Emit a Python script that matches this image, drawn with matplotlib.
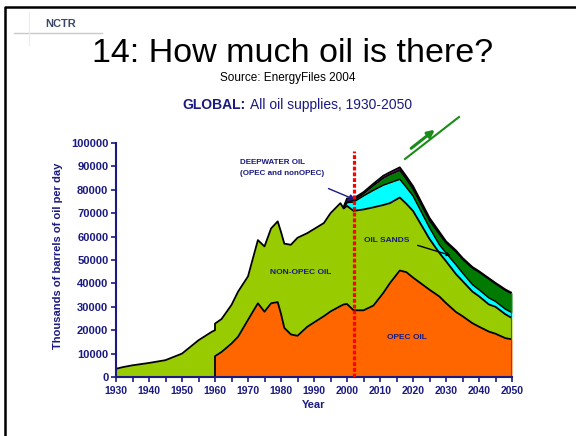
import numpy as np
import matplotlib.pyplot as plt
from matplotlib.lines import Line2D
from matplotlib.ticker import MultipleLocator

plt.rcParams['font.family'] = ['Liberation Sans', 'DejaVu Sans']

navy = '#1a1a80'

# world oil supply, thousand barrels per day
years = [1930, 1932, 1935, 1940, 1945, 1950, 1955, 1959, 1960, 1960, 1962, 1965,
         1967, 1970, 1973, 1975, 1977, 1979, 1980, 1981, 1983, 1985, 1988, 1993,
         1995, 1998, 1999, 2000, 2002, 2005, 2008, 2011, 2013, 2016, 2018, 2020,
         2025, 2028, 2030, 2033, 2035, 2038, 2040, 2043, 2045, 2048, 2050]
opec_top = [0, 0, 0, 0, 0, 0, 0, 0, 0, 8900, 10700, 14300,
            17200, 24400, 31500, 27900, 31500, 32000, 27000, 21000, 18200, 17600, 21500, 26000,
            28000, 30300, 31000, 31200, 28500, 28500, 30500, 35900, 40100, 45500, 44800, 42500,
            37300, 34400, 31600, 27800, 26000, 23000, 21500, 19400, 18500, 16600, 16100]
nonopec_top = [3500, 4200, 5000, 6000, 7200, 10000, 15700, 19300, 20000, 22800, 24800, 30800,
               36500, 43000, 58500, 55800, 63500, 66500, 62000, 57000, 56500, 59500, 61500, 65800,
               70000, 74300, 72000, 73100, 71000, 71600, 72500, 73500, 74300, 76700, 74000, 71000,
               59000, 53000, 49500, 44000, 41000, 36500, 34500, 31000, 30000, 26800, 25200]

# newer sources, 1999 onwards
late_years = [1999, 2000, 2002, 2005, 2008, 2011, 2013, 2016, 2018, 2020, 2025,
              2028, 2030, 2033, 2035, 2038, 2040, 2043, 2045, 2048, 2050]
deep_top = [72300, 74500, 74800, 77400, 79800, 82000, 83000, 84500, 81000, 77400, 63800,
            56500, 53000, 48000, 44500, 39500, 37300, 33800, 32300, 29000, 27500]
sands_top = [72300, 74800, 75500, 78300, 81800, 85000, 86500, 88300, 84500, 80300, 66800,
             61000, 57300, 53500, 50300, 46500, 44800, 41800, 39800, 37000, 35500]
total_top = [72800, 76300, 76300, 79000, 82600, 86000, 87500, 89600, 85700, 81600, 68000,
             62000, 58000, 54100, 50900, 47000, 45200, 42200, 40200, 37400, 35900]

yrs = np.array(years, dtype=float)
opec = np.array(opec_top, dtype=float)
nonopec = np.array(nonopec_top, dtype=float)
ly = np.array(late_years, dtype=float)
nonopec_late = nonopec[-len(late_years):]

fig = plt.figure(figsize=(5.76, 4.36), dpi=100)
ax = fig.add_axes([116 / 576, 1 - 377 / 436, 396 / 576, 234 / 436])

ax.fill_between(yrs, 0, opec, color='#ff6600', lw=0)
ax.fill_between(yrs, opec, nonopec, color='#99cc00', lw=0)
ax.fill_between(ly, nonopec_late, deep_top, color='#00ffff', lw=0)
ax.fill_between(ly, deep_top, sands_top, color='#007a00', lw=0)
ax.fill_between(ly, sands_top, total_top, color='#660066', lw=0)

# outlines
ax.plot(yrs[8:], opec[8:], color='black', lw=1.3)
ax.plot(yrs, nonopec, color='black', lw=1.3)
ax.plot(ly, deep_top, color='black', lw=1.0)
ax.plot(ly, sands_top, color='black', lw=1.0)
ax.plot(ly, total_top, color='black', lw=1.3)
ax.vlines(2050, 0, total_top[-1], color='#555555', lw=1.5)

# 2002 marker
ax.plot([2002, 2002], [0, 96500], color='red', lw=2.3, ls=(0, (1.2, 0.6)), zorder=5)

ax.set_xlim(1930, 2050)
ax.set_ylim(0, 100000)
ax.xaxis.set_major_locator(MultipleLocator(10))
ax.xaxis.set_minor_locator(MultipleLocator(5))
ax.yaxis.set_major_locator(MultipleLocator(10000))
for s in ['top', 'right']:
    ax.spines[s].set_visible(False)
for s in ['left', 'bottom']:
    ax.spines[s].set_color(navy)
    ax.spines[s].set_linewidth(1.5)
ax.tick_params(axis='both', which='both', color=navy, length=3.5, width=1.2,
               labelcolor=navy)
ax.tick_params(axis='y', labelsize=8, pad=2)
ax.tick_params(axis='x', labelsize=7.5, pad=3)
for lab in ax.get_xticklabels() + ax.get_yticklabels():
    lab.set_fontweight('bold')

# labels inside chart
ax.text(1986, 44500, 'NON-OPEC OIL', fontsize=6, fontweight='bold', color=navy,
        ha='center', va='center')
ax.text(2018, 17000, 'OPEC OIL', fontsize=6, fontweight='bold', color=navy,
        ha='center', va='center')
ax.text(1967.6, 89300, 'DEEPWATER OIL\n(OPEC and nonOPEC)', fontsize=5.8,
        fontweight='bold', color=navy, ha='left', va='center', linespacing=1.7)
ax.annotate('', xy=(2003.4, 75200), xytext=(1993.6, 81000),
            arrowprops=dict(arrowstyle='-|>', color=navy, lw=1.0, mutation_scale=9))
ax.text(2012.1, 58400, 'OIL SANDS', fontsize=6, fontweight='bold', color=navy,
        ha='center', va='center')
ax.annotate('', xy=(2032.2, 51600), xytext=(2020.6, 56600),
            arrowprops=dict(arrowstyle='-|>', color='black', lw=1.0, mutation_scale=5))

# titles
fig.text(293 / 576, 1 - 53 / 436, '14: How much oil is there?', fontsize=24.5,
         ha='center', va='center', color='black')
fig.text(288 / 576, 1 - 78 / 436, 'Source: EnergyFiles 2004', fontsize=8.5,
         ha='center', va='center', color='black')
fig.text(246 / 576, 1 - 105 / 436, 'GLOBAL:', fontsize=10, fontweight='bold',
         ha='right', va='center', color=navy)
fig.text(250 / 576, 1 - 105 / 436, 'All oil supplies, 1930-2050', fontsize=10,
         ha='left', va='center', color=navy)
fig.text(58 / 576, 1 - 256 / 436, 'Thousands of barrels of oil per day', fontsize=8,
         fontweight='bold', rotation=90, ha='center', va='center', color=navy)
fig.text(314 / 576, 1 - 405 / 436, 'Year', fontsize=8, fontweight='bold',
         ha='center', va='center', color=navy)

# logo
fig.text(61 / 576, 1 - 24 / 436, 'NCTR', fontsize=8, fontweight='bold',
         ha='center', va='center', color='#3a4766')
fig.add_artist(Line2D([14 / 576, 102 / 576], [1 - 33 / 436, 1 - 33 / 436],
                      color='#c8c8d0', lw=1.0))
fig.add_artist(Line2D([29 / 576, 29 / 576], [1 - 12 / 436, 1 - 45 / 436],
                      color='#ececf0', lw=0.8))

# green arrows
fig.add_artist(Line2D([405 / 576, 459 / 576], [1 - 159 / 436, 1 - 117 / 436],
                      color='#1a8c1a', lw=1.5))
ax.annotate('', xy=(437 / 576, 1 - 128 / 436), xytext=(409 / 576, 1 - 150 / 436),
            xycoords='figure fraction', textcoords='figure fraction',
            arrowprops=dict(arrowstyle='-|>', color='#1a8c1a', lw=2.2, mutation_scale=10))

# slide border
fig.add_artist(Line2D([5 / 576, 5 / 576, 1], [0, 1 - 7 / 436, 1 - 7 / 436],
                      color='black', lw=1.8))

fig.savefig('out.png', dpi=100)
